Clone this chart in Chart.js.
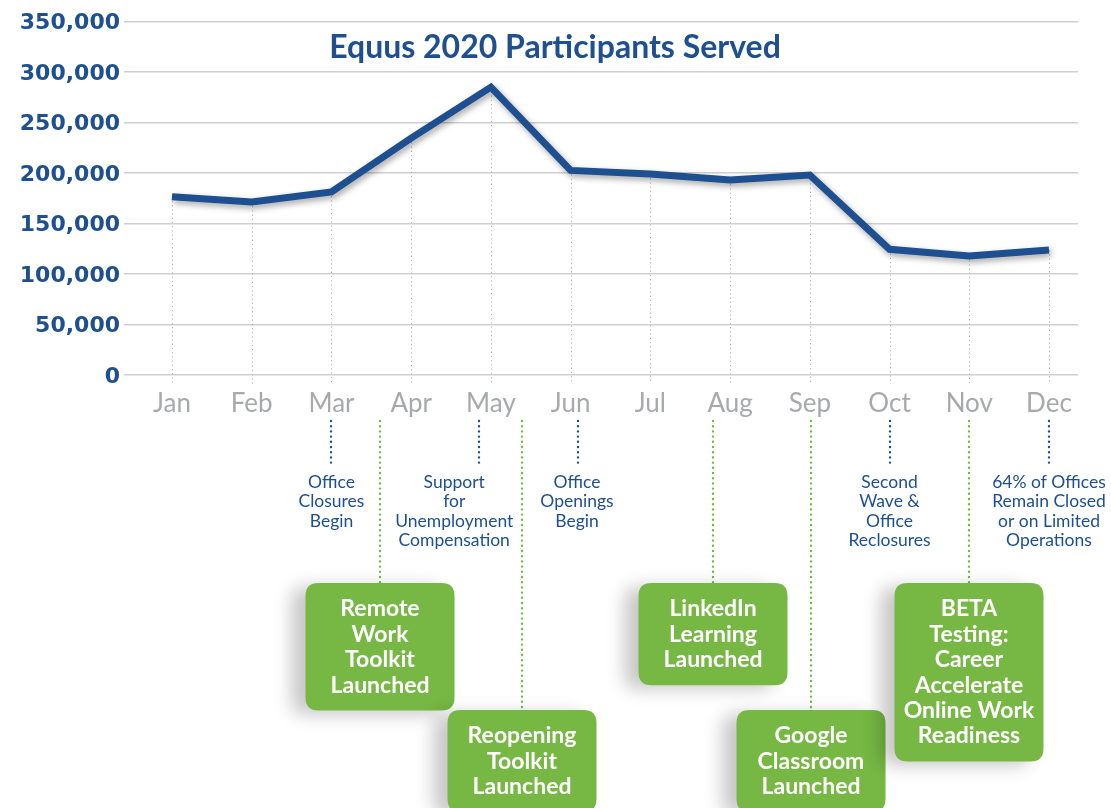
<!DOCTYPE html>
<html><head><meta charset="utf-8">
<script src="https://cdn.jsdelivr.net/npm/chart.js@4.4.1/dist/chart.umd.min.js"></script>
<style>html,body{margin:0;padding:0;background:#fff}#wrap{width:1111px;height:808px;position:relative}</style>
</head><body><div id="wrap"><canvas id="c"></canvas></div>
<script>
// ---- data ----
const months = ['Jan','Feb','Mar','Apr','May','Jun','Jul','Aug','Sep','Oct','Nov','Dec'];
const participants = [176500,171300,181200,234500,285000,202600,199000,193000,198000,124400,117800,123700];
const yTicks = [0,50000,100000,150000,200000,250000,300000,350000];
const chartTitle = 'Equus 2020 Participants Served';
const eventNotes = [
  ['Office','Closures','Begin'],
  ['Support','for','Unemployment','Compensation'],
  ['Office','Openings','Begin'],
  ['Second','Wave &','Office','Reclosures'],
  ['64% of Offices','Remain Closed','or on Limited','Operations']
];
const launchNotes = [
  ['Remote','Work','Toolkit','Launched'],
  ['Reopening','Toolkit','Launched'],
  ['LinkedIn','Learning','Launched'],
  ['Google','Classroom','Launched'],
  ['BETA','Testing:','Career','Accelerate','Online Work','Readiness']
];
// ---- layout (in month-position units along the x scale) ----
const eventTextAt = [2.0, 3.54, 5.08, 9.0, 11.0];
const eventLineAt = [2.0, 3.85, 5.09, 9.0, 11.0];
const launchAt = [2.61, 4.39, 6.78, 8.02, 10.0];
const launchTier = [0, 1, 0, 1, 0];

const BLUE = '#1d4f91';
const GREEN = '#76b843';

function rr(ctx, x, y, w, h, r) {
  ctx.beginPath();
  ctx.moveTo(x + r, y);
  ctx.lineTo(x + w - r, y); ctx.quadraticCurveTo(x + w, y, x + w, y + r);
  ctx.lineTo(x + w, y + h - r); ctx.quadraticCurveTo(x + w, y + h, x + w - r, y + h);
  ctx.lineTo(x + r, y + h); ctx.quadraticCurveTo(x, y + h, x, y + h - r);
  ctx.lineTo(x, y + r); ctx.quadraticCurveTo(x, y, x + r, y);
  ctx.closePath();
}

const decor = {
  id: 'decor',
  beforeDatasetsDraw(chart) {
    const {ctx, scales: {x, y}} = chart;
    ctx.save();
    ctx.strokeStyle = '#b4b4b4';
    ctx.lineWidth = 1;
    ctx.setLineDash([1.2, 3]);
    participants.forEach((v, i) => {
      const px = Math.round(x.getPixelForValue(i)) + 0.5;
      ctx.beginPath();
      ctx.moveTo(px, y.getPixelForValue(v));
      ctx.lineTo(px, y.getPixelForValue(0) + 9);
      ctx.stroke();
    });
    ctx.restore();
    // title
    ctx.save();
    ctx.fillStyle = BLUE;
    ctx.font = 'bold 32px Lato';
    ctx.textAlign = 'center';
    ctx.textBaseline = 'alphabetic';
    ctx.fillText(chartTitle, 555, 58);
    ctx.restore();
  },
  beforeDatasetDraw(chart) {
    const ctx = chart.ctx;
    ctx.save();
    ctx.shadowColor = 'rgba(0,0,0,0.35)';
    ctx.shadowBlur = 6;
    ctx.shadowOffsetX = 2;
    ctx.shadowOffsetY = 3;
  },
  afterDatasetDraw(chart) { chart.ctx.restore(); },
  afterDraw(chart) {
    const {ctx, scales: {x}} = chart;
    ctx.save();
    // blue event notes
    ctx.lineCap = 'round';
    eventNotes.forEach((lines, i) => {
      const lx = Math.round(x.getPixelForValue(eventLineAt[i]));
      ctx.strokeStyle = BLUE;
      ctx.lineWidth = 2.4;
      ctx.setLineDash([0, 5.2]);
      ctx.beginPath(); ctx.moveTo(lx, 421); ctx.lineTo(lx, 464); ctx.stroke();
      ctx.setLineDash([]);
      const tx = x.getPixelForValue(eventTextAt[i]);
      ctx.fillStyle = BLUE;
      ctx.font = '17.5px Lato';
      ctx.textAlign = 'center';
      ctx.textBaseline = 'middle';
      lines.forEach((t, k) => ctx.fillText(t, tx, 482 + k * 19.6));
    });
    // green launch boxes
    launchNotes.forEach((lines, i) => {
      const cx = Math.round(x.getPixelForValue(launchAt[i]));
      const top = launchTier[i] ? 710 : 583;
      ctx.strokeStyle = GREEN;
      ctx.lineWidth = 2.4;
      ctx.setLineDash([0, 5.2]);
      ctx.beginPath(); ctx.moveTo(cx, 421); ctx.lineTo(cx, top); ctx.stroke();
      ctx.setLineDash([]);
      const w = 149, h = lines.length * 25.4 + 26;
      ctx.save();
      ctx.shadowColor = 'rgba(0,0,0,0.22)';
      ctx.shadowBlur = 18;
      ctx.shadowOffsetX = -14;
      ctx.shadowOffsetY = 4;
      ctx.fillStyle = GREEN;
      rr(ctx, cx - w / 2, top, w, h, 13);
      ctx.fill();
      ctx.restore();
      ctx.fillStyle = '#ffffff';
      ctx.font = 'bold 23px Lato';
      ctx.textAlign = 'center';
      ctx.textBaseline = 'middle';
      lines.forEach((t, k) => ctx.fillText(t, cx, top + 26 + k * 25.4));
    });
    ctx.restore();
  }
};

new Chart(document.getElementById('c'), {
  type: 'line',
  data: {
    datasets: [{
      data: months.map((m, i) => ({x: i, y: participants[i]})),
      borderColor: BLUE,
      borderWidth: 7,
      borderJoinStyle: 'miter',
      borderCapStyle: 'butt',
      tension: 0,
      pointRadius: 0,
      fill: false
    }]
  },
  options: {
    responsive: true,
    maintainAspectRatio: false,
    animation: false,
    events: [],
    layout: {padding: {top: 21.5, right: 33, left: 0, bottom: 0}},
    plugins: {legend: {display: false}, tooltip: {enabled: false}, title: {display: false}},
    scales: {
      x: {
        type: 'linear',
        min: -0.602,
        max: 11.364,
        afterBuildTicks: s => { s.ticks = months.map((m, i) => ({value: i})); },
        afterFit: s => { s.height = 433; },
        grid: {display: false},
        border: {display: false},
        ticks: {
          autoSkip: false,
          maxRotation: 0,
          padding: 5,
          color: '#a7a9ac',
          font: {family: 'Lato', size: 26},
          callback: v => months[v]
        }
      },
      y: {
        min: 0,
        max: 350000,
        afterBuildTicks: s => { s.ticks = yTicks.map(v => ({value: v})); },
        afterFit: s => { s.width = 124; },
        grid: {color: '#cfcfcf', lineWidth: 1.5, drawTicks: false},
        border: {display: false},
        ticks: {
          padding: 4,
          labelOffset: 2,
          color: BLUE,
          font: {family: 'DejaVu Sans', size: 22, weight: 'bold'},
          callback: v => v.toLocaleString('en-US')
        }
      }
    }
  },
  plugins: [decor]
});
</script>
</body></html>
